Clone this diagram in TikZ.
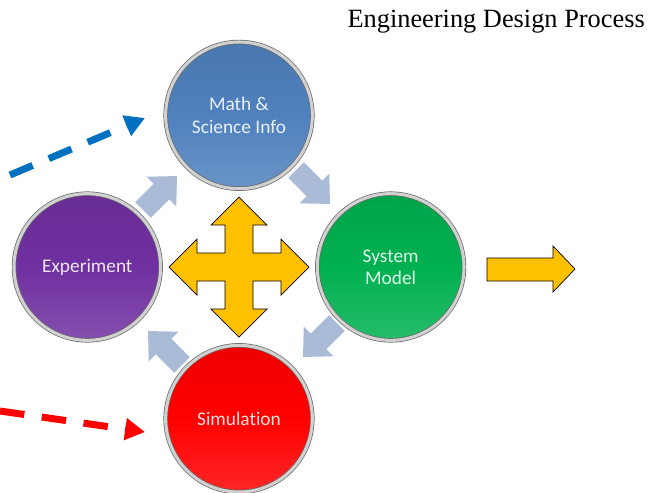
\documentclass[tikz,border=0pt]{standalone}
\usepackage{fontspec}
\setmainfont{Liberation Serif}
\newfontfamily\stagefont[Ligatures=NoCommon]{Carlito}
\usetikzlibrary{arrows.meta}

\definecolor{mathblue}{RGB}{79,129,189}
\definecolor{exppurple}{RGB}{112,48,160}
\definecolor{modelgreen}{RGB}{0,176,80}
\definecolor{simred}{RGB}{255,0,0}
\definecolor{crossyellow}{RGB}{255,192,0}
\definecolor{cycleblue}{RGB}{170,187,215}
\definecolor{inblue}{RGB}{0,112,192}

\begin{document}
\begin{tikzpicture}[x=0.03cm,y=-0.03cm,node distance=4.55cm,
  stage node/.style={circle,minimum size=4.4cm,inner sep=0pt,align=center,
  draw=black!60,line width=0.6pt,double=black!18,double distance=2.6pt,
  top color=#1!93!black,bottom color=#1!85!white,middle color=#1,
  text=white!88!#1,font=\stagefont\fontsize{16.5}{19}\selectfont},
  yellow arrow/.style={fill=crossyellow,draw=black,line width=0.6pt},
  cycle arrow/.style={fill=cycleblue},
  input arrow/.style={line width=2.1mm,dash pattern=on 21pt off 15pt,
  -{Triangle[length=17pt,width=18pt]}}]

  \useasboundingbox (0,0) rectangle (663,492);

  %center of the cross%
  \coordinate (hub) at (239,267);

  %light arrows going round the cycle%
  \foreach \cx/\cy/\ang in {160/193/45, 313/187/-45, 320/340/-135, 165/348/135}
    \fill[cycle arrow,shift={(\cx,\cy)},rotate=\ang]
      (-24,-11) -- (2,-11) -- (2,-21) -- (24,0) -- (2,21) -- (2,11) -- (-24,11) -- cycle;

  %four way arrow in the middle%
  \draw[yellow arrow,shift={(hub)}]
    (70,0) -- (42,28) -- (42,14) -- (14,14) -- (14,42) -- (28,42) -- (0,70)
    -- (-28,42) -- (-14,42) -- (-14,14) -- (-42,14) -- (-42,28) -- (-70,0)
    -- (-42,-28) -- (-42,-14) -- (-14,-14) -- (-14,-42) -- (-28,-42) -- (0,-70)
    -- (28,-42) -- (14,-42) -- (14,-14) -- (42,-14) -- (42,-28) -- cycle;

  \node[stage node=mathblue] (math) [above of=hub] {Math \&\\Science Info};
  \node[stage node=exppurple] (exp) [left of=hub] {Experiment};
  \node[stage node=modelgreen] (model) [right of=hub] {System\\Model};
  \node[stage node=simred] (sim) [below of=hub] {Simulation};

  %output arrow%
  \draw[yellow arrow]
    (487,258) -- (553,258) -- (553,246) -- (575,269) -- (553,292) -- (553,281)
    -- (487,281) -- cycle;

  %inputs from outside%
  \coordinate (blue start) at (10,175);
  \coordinate (blue end) at (145,118);
  \coordinate (red start) at (0,411);
  \coordinate (red end) at (145,432);

  \path (blue start) edge[input arrow,color=inblue] (blue end)
        (red start) edge[input arrow,color=simred] (red end);

  \node[anchor=base east,inner sep=0pt,font=\fontsize{22.5}{26}\selectfont]
    (title) at (645,27) {Engineering Design Process};

\end{tikzpicture}
\end{document}
